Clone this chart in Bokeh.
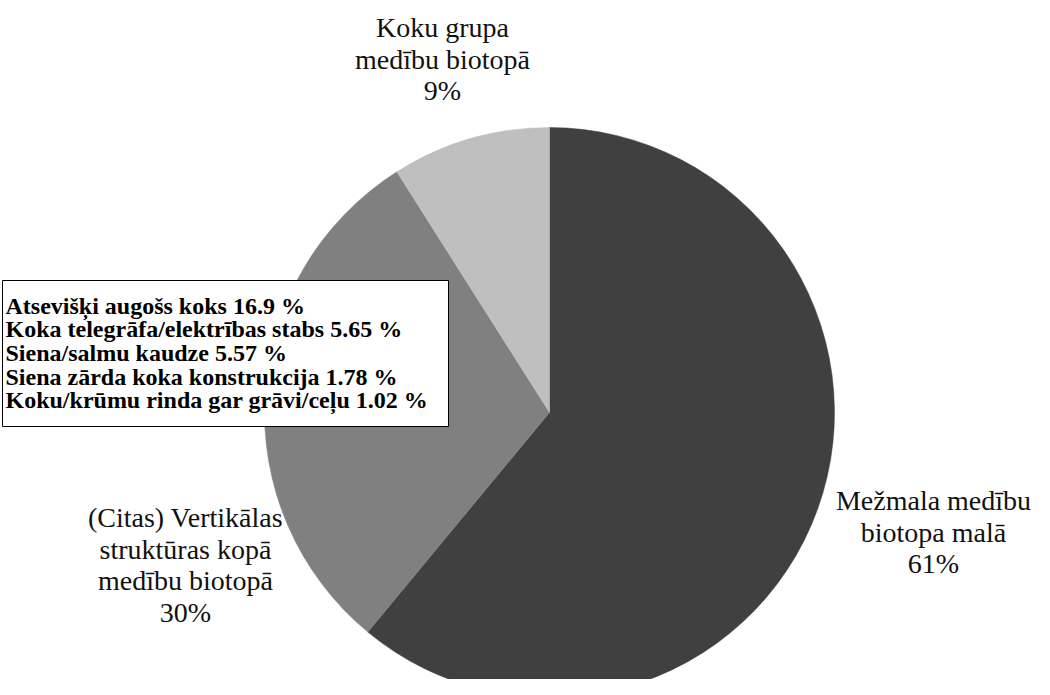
import numpy as np
from bokeh.plotting import figure
from bokeh.models import Range1d, ColumnDataSource
from bokeh.core.properties import value
from bokeh.embed import file_html
from bokeh.resources import INLINE

# --- data ---
slice_names = ["Mežmala medību biotopa malā",
               "(Citas) Vertikālas struktūras kopā medību biotopā",
               "Koku grupa medību biotopā"]
slice_values = [61, 30, 9]
slice_colors = ["#404040", "#808080", "#bfbfbf"]
slice_label_lines = [["Mežmala medību", "biotopa malā", "61%"],
                     ["(Citas) Vertikālas", "struktūras kopā", "medību biotopā", "30%"],
                     ["Koku grupa", "medību biotopā", "9%"]]

sub_names = ["Atsevišķi augošs koks", "Koka telegrāfa/elektrības stabs",
             "Siena/salmu kaudze", "Siena zārda koka konstrukcija ",
             "Koku/krūmu  rinda  gar grāvi/ceļu"]
sub_values = ["16.9", "5.65", "5.57", "1.78", "1.02"]

W, H = 1034, 679
FONT = "Times New Roman"
BFONT = "Liberation Serif"

p = figure(width=W, height=H, x_range=Range1d(0, W), y_range=Range1d(0, H),
           output_backend="svg", toolbar_location=None, min_border=0)
p.axis.visible = False
p.grid.visible = False
p.outline_line_color = None
p.background_fill_color = "white"
p.border_fill_color = "white"

# pie
cx, cy, r = 549, 267, 285
vals = np.array(slice_values, dtype=float)
frac = vals / vals.sum()
cum = np.concatenate([[0], np.cumsum(frac)])
start = np.pi / 2 - cum[:-1] * 2 * np.pi
end = np.pi / 2 - cum[1:] * 2 * np.pi
src = ColumnDataSource(dict(start=start, end=end, color=slice_colors, name=slice_names))
p.wedge(x=cx, y=cy, radius=r, start_angle="start", end_angle="end",
        direction="clock", fill_color="color", line_color="color", line_width=0.5, source=src)

# slice labels (anchor x, first baseline y)
label_anchor = [(933, 179), (185, 162), (442, 652)]
for lines, (lx, ly) in zip(slice_label_lines, label_anchor):
    ys = [ly - 31.5 * i for i in range(len(lines))]
    p.text(x=[lx] * len(lines), y=ys, text=lines, text_font=value(FONT),
           text_font_size="28px", text_align="center", text_baseline="alphabetic",
           text_color="#111111")

# breakdown box
p.quad(left=2, right=448, bottom=253, top=399, fill_color="white", line_color="black", line_width=1)
box_lines = [f"{n} {v} %" for n, v in zip(sub_names, sub_values)]
p.text(x=[5] * len(box_lines), y=[374 - 23.7 * i for i in range(len(box_lines))],
       text=box_lines, text_font=value(BFONT), text_font_size="24px",
       text_font_style="bold", text_align="left", text_baseline="alphabetic",
       text_color="black")

open("out.html", "w").write(file_html(p, INLINE))
